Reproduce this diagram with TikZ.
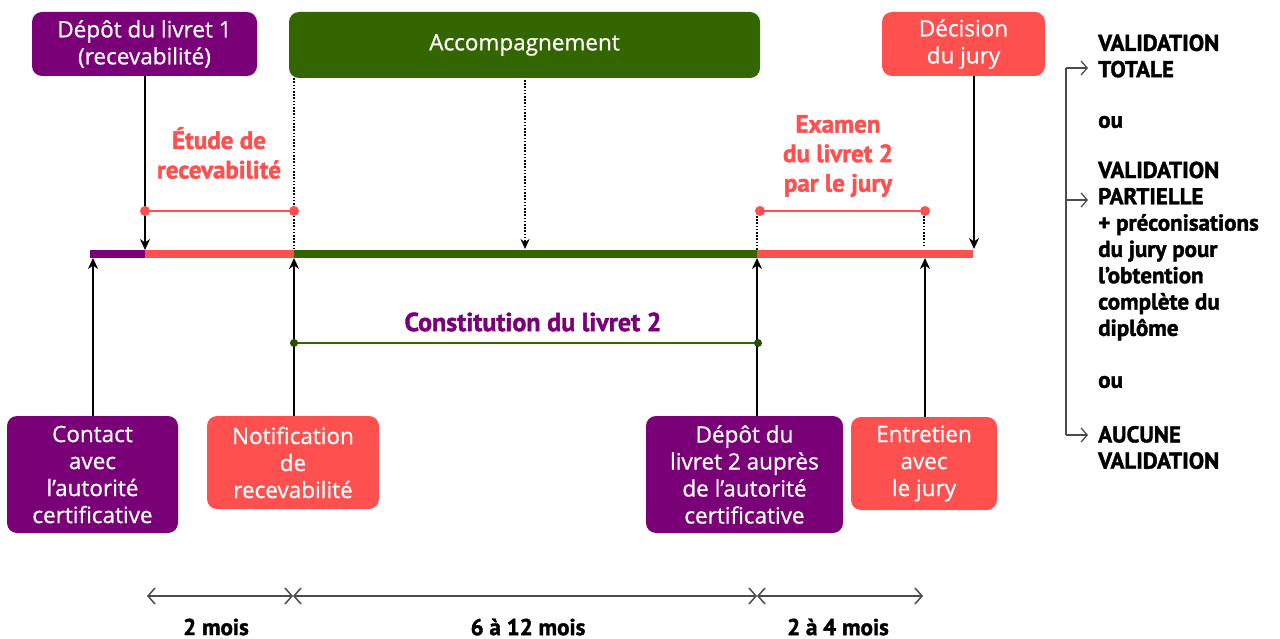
\documentclass[tikz,border=0pt]{standalone}
\usepackage{fontspec}
\setmainfont{Open Sans}
\newfontfamily\boxf{Open Sans}[FakeBold=0.8]
\newfontfamily\heavy{PT Sans}[BoldFeatures={FakeBold=1.6}]
\usetikzlibrary{arrows.meta}
\definecolor{vpurple}{RGB}{122,0,120}
\definecolor{vgreen}{RGB}{51,102,0}
\definecolor{vred}{RGB}{255,80,80}
\definecolor{vdgreen}{RGB}{38,80,0}
\begin{document}
\begin{tikzpicture}[x=1pt,y=-1pt,
  box/.style={rounded corners=10pt, inner sep=0pt, text=white, align=center, font=\boxf\fontsize{22.5}{27}\selectfont},
  arr/.style={line width=2pt, -{Stealth[length=11pt,width=10pt]}},
  dots/.style={line width=1.6pt, dash pattern=on 1.6pt off 1.6pt},
  span/.style={vred, line width=2pt},
  endpt/.style={circle, fill=vred, inner sep=0pt, minimum size=10pt},
  gendpt/.style={circle, fill=vdgreen, inner sep=0pt, minimum size=8pt},
  hv/.style={font=\heavy\bfseries\fontsize{23}{26.3}\selectfont, align=left, inner sep=0pt, anchor=west},
  redlbl/.style={font=\heavy\bfseries\fontsize{25}{29.5}\selectfont, align=center, text=vred, inner sep=0pt},
  dur/.style={black!70, line width=1.5pt, {Straight Barb[length=7pt,width=16pt]}-{Straight Barb[length=7pt,width=16pt]}},
  brk/.style={black!70, line width=1.3pt},
  brka/.style={black!70, line width=1.3pt, -{Straight Barb[length=6pt,width=14pt]}},
  durlbl/.style={font=\heavy\bfseries\fontsize{23}{24}\selectfont, inner sep=0pt},
]
\useasboundingbox (0,0) rectangle (1280,639);

% top boxes
\node[box, fill=vpurple, minimum width=225pt, minimum height=64pt] (d1) at (144.5,44) {Dépôt du livret 1\\(recevabilité)};
\node[box, fill=vgreen, minimum width=471pt, minimum height=66pt] (acc) at (524.5,45) {Accompagnement};
\node[box, fill=vred, minimum width=163pt, minimum height=64pt] (dec) at (963.5,44) {Décision\\du jury};

% bottom boxes
\node[box, fill=vpurple, minimum width=171pt, minimum height=117pt] (con) at (92.5,474.5) {Contact\\avec\\l’autorité\\certificative};
\node[box, fill=vred, minimum width=172pt, minimum height=93pt] (notif) at (293,462.5) {Notification\\de\\recevabilité};
\node[box, fill=vpurple, minimum width=197pt, minimum height=117pt] (d2) at (744.5,474.5) {Dépôt du\\livret 2 auprès\\de l’autorité\\certificative};
\node[box, fill=vred, minimum width=146pt, minimum height=93pt] (ent) at (924,463.5) {Entretien\\avec\\le jury};

% timeline
\coordinate (t0) at (90,254);
\coordinate (t1) at (145,254);
\coordinate (t2) at (294,254);
\coordinate (t3) at (757,254);
\coordinate (t4) at (973,254);
\draw[vpurple, line width=8pt] (t0) -- (t1);
\draw[vred, line width=8pt] (t1) -- (t2);
\draw[vgreen, line width=8pt] (t2) -- (t3);
\draw[vred, line width=8pt] (t3) -- (t4);

% arrows down to timeline
\coordinate (a1) at (145,250);
\coordinate (a4) at (974,249);
\coordinate (dacc) at (525,249);
\coordinate (dacc0) at (525,80);
\coordinate (a2top) at (294,250);
\draw[arr] (d1.south -| a1) -- (a1);
\draw[arr] (dec.south -| a4) -- (a4);
\draw[dots] (acc.south -| a2top) -- (a2top);
\draw[dots, -{Stealth[length=10pt,width=9pt]}] (dacc0) -- (dacc);

% arrows up to timeline
\coordinate (u0) at (93,258);
\coordinate (u1) at (294,258);
\coordinate (u2) at (757,258);
\coordinate (u3) at (925,258);
\draw[arr] (con.north -| u0) -- (u0);
\draw[arr] (notif.north -| u1) -- (u1);
\draw[arr] (d2.north -| u2) -- (u2);
\draw[arr] (ent.north -| u3) -- (u3);

% Etude de recevabilite
\node[redlbl] (etude) at (219,153) {Étude de\\recevabilité};
\coordinate (s1a) at (145,211);
\coordinate (s1b) at (294,211);
\draw[span] (s1a) -- (s1b);
\node[endpt] at (s1a) {};
\node[endpt] at (s1b) {};

% Examen du livret 2
\node[redlbl] (exam) at (838,156) {Examen\\du livret 2\\par le jury};
\coordinate (s2a) at (760,211);
\coordinate (s2b) at (925,211);
\draw[span] (s2a) -- (s2b);
\node[endpt] at (s2a) {};
\node[endpt] at (s2b) {};
\coordinate (e1) at (757,216);
\coordinate (e2) at (924,216);
\draw[dots] (e1) -- (e1 |- a1);
\draw[dots] (e2) -- (924,246);

% Constitution du livret 2
\node[font=\heavy\bfseries\fontsize{26}{28}\selectfont, text=vpurple, inner sep=0pt] (consti) at (533,322) {Constitution du livret 2};
\coordinate (g1) at (294,343);
\coordinate (g2) at (758,343);
\draw[vgreen, line width=2pt] (g1) -- (g2);
\node[gendpt] at (g1) {};
\node[gendpt] at (g2) {};

% outcomes
\node[hv] (o1) at (1098,56) {VALIDATION\\TOTALE};
\node[hv] (ou1) at (1098,122) {ou};
\node[hv] (o2) at (1098,251) {VALIDATION\\PARTIELLE\\+ préconisations\\du jury pour\\l’obtention\\complète du\\diplôme};
\node[hv] (ou2) at (1098,382) {ou};
\node[hv] (o3) at (1098,447.5) {AUCUNE\\VALIDATION};
\coordinate (b1) at (1066,68);
\coordinate (b2) at (1066,200);
\coordinate (b3) at (1066,435);
\draw[brk] (b1) -- (b3);
\draw[brka] (b1) -- ([xshift=-10pt]o1.west |- b1);
\draw[brka] (b2) -- ([xshift=-10pt]o2.west |- b2);
\draw[brka] (b3) -- ([xshift=-10pt]o3.west |- b3);

% durations
\coordinate (m0) at (147,596);
\coordinate (m1) at (293,596);
\coordinate (m2) at (757,596);
\coordinate (m3) at (923,596);
\draw[dur] (m0) -- (m1);
\draw[dur] (m1) -- (m2);
\draw[dur] (m2) -- (m3);
\node[durlbl] (l1) at (216,627) {2 mois};
\node[durlbl] (l2) at (528,627) {6 à 12 mois};
\node[durlbl] (l3) at (838,627) {2 à 4 mois};
\end{tikzpicture}
\end{document}
